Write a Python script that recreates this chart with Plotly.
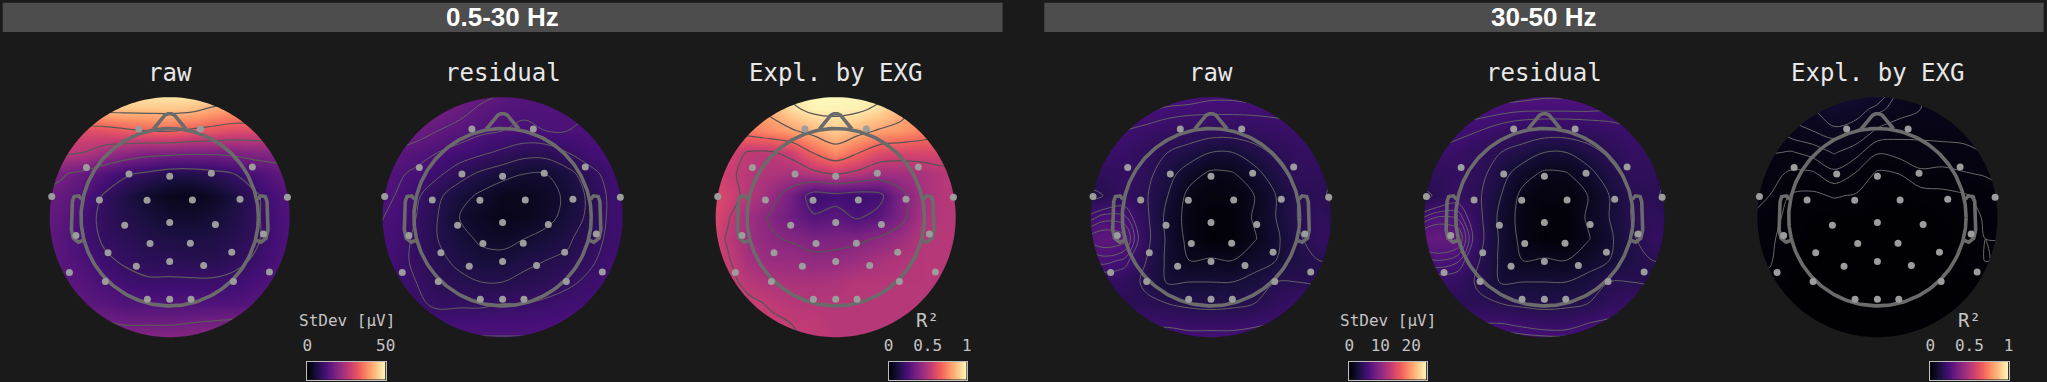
import numpy as np
import plotly.graph_objects as go

BG = "#1a1a1a"
W, H = 2047, 382

GRID_X = [-1.08, -0.9, -0.72, -0.54, -0.36, -0.18, 0, 0.18, 0.36, 0.54, 0.72, 0.9, 1.08]
GRID_Y_TOP_DOWN = [1.08, 0.9, 0.72, 0.54, 0.36, 0.18, 0, -0.18, -0.36, -0.54, -0.72, -0.9, -1.08]

SENSOR_X = [-.256, .256, -.694, .689, -.339, 0, .347, -.983, .981, -.586, -.189, .189, .586, -.375, 0, .381,
            -.781, .781, -.164, .172, -.514, .517, -.278, 0, .283, -.836, .831, -.536, .531, -.186, 0, .178]
SENSOR_Y = [.736, .736, .414, .419, .361, .342, .367, .172, .167, .144, .142, .144, .15, -.067, -.044, -.061,
            -.153, -.139, -.219, -.217, -.297, -.292, -.408, -.369, -.403, -.461, -.456, -.536, -.536, -.683, -.683, -.683]

# values as a fraction of each panel's colour range, rows from the top of the head to the back
LOW_RAW = [
    [1, 1, 1, 1, 1, 1, 1, 1, 1, 1, 1, 1, 1],
    [.9, .9, .9, .88, .88, .88, .88, .87, .82, .8, .8, .8, .8],
    [.6, .6, .6, .62, .65, .67, .68, .65, .63, .6, .6, .6, .6],
    [.52, .52, .5, .44, .4, .37, .36, .35, .35, .36, .38, .38, .38],
    [.38, .34, .3, .25, .2, .17, .14, .14, .16, .19, .24, .28, .3],
    [.32, .3, .25, .18, .13, .08, .05, .04, .07, .12, .18, .24, .27],
    [.3, .28, .22, .17, .14, .11, .09, .08, .1, .13, .18, .23, .26],
    [.29, .27, .22, .18, .16, .14, .13, .12, .13, .15, .18, .23, .26],
    [.29, .27, .24, .2, .18, .16, .16, .15, .15, .17, .2, .24, .27],
    [.3, .28, .26, .23, .21, .2, .2, .2, .2, .21, .23, .26, .28],
    [.32, .3, .28, .27, .25, .25, .25, .25, .25, .25, .27, .28, .3],
    [.36, .34, .34, .34, .33, .33, .33, .34, .35, .36, .36, .36, .36],
    [.42, .42, .42, .42, .42, .42, .42, .42, .42, .42, .42, .42, .42],
]
LOW_RESIDUAL = [
    [.36, .36, .36, .36, .34, .32, .3, .27, .26, .25, .24, .24, .24],
    [.36, .36, .35, .34, .31, .28, .26, .25, .25, .25, .24, .24, .24],
    [.35, .34, .32, .29, .27, .25, .24, .23, .24, .24, .24, .24, .24],
    [.3, .28, .26, .24, .22, .2, .18, .16, .16, .19, .22, .23, .24],
    [.27, .25, .23, .2, .16, .13, .11, .09, .09, .12, .17, .21, .22],
    [.25, .24, .2, .15, .11, .08, .05, .05, .07, .1, .15, .2, .22],
    [.25, .23, .19, .14, .09, .06, .04, .05, .07, .11, .15, .2, .22],
    [.24, .22, .18, .14, .11, .08, .07, .09, .11, .13, .17, .2, .21],
    [.23, .21, .18, .15, .13, .11, .11, .13, .14, .15, .18, .21, .22],
    [.22, .21, .19, .16, .15, .14, .14, .15, .16, .18, .2, .22, .23],
    [.22, .21, .2, .18, .18, .18, .19, .19, .2, .21, .22, .23, .24],
    [.24, .23, .22, .22, .23, .23, .23, .23, .23, .24, .25, .25, .25],
    [.25, .25, .25, .25, .25, .25, .25, .25, .25, .25, .25, .25, .25],
]
LOW_EXPL = [
    [.8, .85, .9, .95, 1, 1, 1, 1, 1, .95, .9, .85, .8],
    [.72, .74, .78, .84, .93, .98, .98, .97, .93, .85, .78, .72, .7],
    [.66, .68, .72, .76, .8, .85, .89, .85, .8, .78, .74, .7, .66],
    [.62, .58, .52, .52, .56, .68, .76, .68, .6, .58, .58, .58, .56],
    [.6, .55, .5, .48, .47, .5, .53, .5, .45, .45, .47, .5, .5],
    [.62, .57, .5, .43, .33, .2, .22, .2, .22, .36, .46, .5, .5],
    [.62, .54, .44, .38, .32, .26, .28, .24, .28, .36, .47, .5, .5],
    [.6, .52, .44, .4, .38, .36, .36, .37, .4, .44, .5, .5, .5],
    [.6, .54, .46, .43, .43, .41, .42, .44, .47, .49, .5, .5, .5],
    [.6, .56, .5, .48, .47, .47, .48, .5, .5, .5, .5, .5, .5],
    [.6, .58, .55, .52, .5, .5, .5, .5, .5, .5, .5, .5, .5],
    [.6, .6, .57, .55, .53, .52, .5, .5, .5, .5, .5, .5, .5],
    [.6, .6, .58, .56, .54, .52, .51, .5, .5, .5, .5, .5, .5],
]
HIGH_RAW = [
    [.22, .23, .24, .25, .26, .26, .24, .24, .25, .24, .22, .21, .2],
    [.23, .23, .23, .23, .22, .215, .215, .215, .215, .215, .215, .21, .2],
    [.21, .21, .205, .195, .185, .18, .175, .175, .18, .19, .195, .2, .19],
    [.2, .2, .19, .17, .15, .13, .1, .1, .13, .16, .18, .18, .17],
    [.17, .17, .18, .165, .12, .07, .04, .045, .08, .13, .17, .17, .15],
    [.13, .15, .18, .155, .1, .035, .02, .02, .05, .1, .15, .16, .13],
    [.2, .235, .23, .16, .085, .03, .01, .015, .055, .1, .15, .17, .16],
    [.26, .285, .275, .165, .09, .035, .01, .015, .045, .09, .14, .18, .17],
    [.22, .235, .22, .15, .09, .05, .055, .05, .08, .1, .13, .15, .15],
    [.17, .18, .175, .14, .095, .1, .1, .1, .115, .15, .15, .14, .13],
    [.18, .17, .155, .16, .15, .14, .135, .14, .15, .17, .19, .2, .19],
    [.21, .21, .21, .2, .2, .19, .19, .19, .2, .21, .21, .21, .2],
    [.25, .25, .25, .25, .25, .25, .25, .25, .25, .25, .25, .25, .25],
]
HIGH_RESIDUAL = [
    [.23, .24, .25, .26, .27, .27, .26, .26, .26, .25, .23, .22, .21],
    [.24, .24, .24, .24, .235, .23, .23, .23, .23, .225, .22, .21, .2],
    [.22, .22, .215, .205, .19, .18, .175, .175, .18, .19, .2, .2, .19],
    [.2, .2, .19, .17, .15, .13, .1, .1, .13, .16, .18, .18, .17],
    [.17, .17, .18, .165, .12, .07, .04, .045, .08, .13, .17, .17, .15],
    [.13, .155, .185, .155, .1, .035, .02, .02, .05, .1, .15, .16, .13],
    [.21, .245, .24, .16, .085, .03, .01, .015, .055, .1, .15, .17, .16],
    [.28, .305, .29, .165, .09, .035, .01, .015, .045, .09, .14, .18, .17],
    [.23, .245, .23, .15, .09, .05, .055, .05, .08, .1, .13, .15, .15],
    [.18, .185, .18, .14, .095, .1, .1, .1, .115, .15, .15, .14, .13],
    [.18, .17, .155, .16, .15, .14, .135, .14, .15, .17, .19, .2, .19],
    [.22, .22, .22, .21, .21, .2, .19, .19, .21, .22, .22, .22, .21],
    [.26, .26, .26, .26, .26, .26, .26, .26, .26, .26, .26, .26, .26],
]
HIGH_EXPL = [
    [.06, .07, .08, .09, .1, .1, .085, .05, .04, .04, .035, .03, .03],
    [.045, .05, .055, .06, .08, .07, .053, .045, .04, .04, .035, .03, .03],
    [.03, .035, .046, .05, .055, .05, .038, .034, .033, .034, .033, .035, .035],
    [.03, .03, .029, .034, .041, .034, .021, .024, .026, .026, .028, .03, .03],
    [.026, .024, .018, .018, .027, .019, .008, .01, .018, .017, .019, .021, .025],
    [.024, .02, .009, .008, .011, .009, .004, .004, .005, .007, .009, .013, .018],
    [.02, .015, .006, .003, .002, .002, .002, .002, .002, .003, .006, .011, .012],
    [.016, .012, .005, .002, .001, .001, .001, .001, .001, .002, .006, .01, .01],
    [.012, .011, .004, .001, .001, .001, .001, .001, .001, .001, .004, .0105, .008],
    [.008, .008, .003, .001, .001, .001, .001, .001, .001, .001, .003, .004, .004],
    [.002, .002, .002, .001, .001, .001, .001, .001, .001, .001, .001, .002, .002],
    [.001, .001, .001, .001, .001, .001, .001, .001, .001, .001, .001, .001, .001],
    [.001, .001, .001, .001, .001, .001, .001, .001, .001, .001, .001, .001, .001],
]

PANEL_TITLES = ["raw", "residual", "Expl. by EXG", "raw", "residual", "Expl. by EXG"]
PANEL_FIELDS = [LOW_RAW, LOW_RESIDUAL, LOW_EXPL, HIGH_RAW, HIGH_RESIDUAL, HIGH_EXPL]
PANEL_CX = [169.7, 502.6, 835.7, 1211.0, 1544.4, 1877.4]
PANEL_CY = 217.2
PANEL_SCALE = [50, 50, 1, 25, 25, 1]
PANEL_LEVELS = [
    [.19, .33, .5, .67, .84],
    [.09, .14, .19, .24, .29],
    [.25, .39, .53, .67, .81, .95],
    [.05, .1, .15, .205, .225, .245, .265],
    [.05, .1, .15, .205, .225, .245, .265],
    [.01, .02, .03, .04, .05, .06],
]
LINE_COLOR = ["#5a5a5a", "#606060", "#555555", "#626262", "#626262", "#6a6a6a"]
LINE_WIDTH = [1.2, 1, 1.2, 1, 1, 1]

BAND_LABELS = ["0.5-30 Hz", "30-50 Hz"]
BAND_BARS = [(2.7, 1002.6), (1044.3, 2043.7)]
BAND_TEXT_X = [502.2, 1543.6]

CB_X = [(307.3, 385.7), (888.6, 966.7), (1349.3, 1426.7), (1930.2, 2008.6)]
CB_TITLE = ["StDev [μV]", "R²", "StDev [μV]", "R²"]
CB_TITLE_X = [346.7, 927.0, 1387.5, 1969.0]
CB_TITLE_SIZE = [16, 19, 16, 19]
CB_MAX = [50, 1, 25, 1]
CB_TICKS = [[0, 50], [0, .5, 1], [0, 10, 20], [0, .5, 1]]
CB_TICKTEXT = [["0", "50"], ["0", "0.5", "1"], ["0", "10", "20"], ["0", "0.5", "1"]]

HALF_PX = 156.0
UNIT_PX = 120.0
HEAD_R = 0.739
MONO = "DejaVu Sans Mono"

fig = go.Figure()
layout_axes = {}
annotations = []
shapes = []

theta = np.linspace(0, 2 * np.pi, 241)
ring_x, ring_y = HEAD_R * np.cos(theta), HEAD_R * np.sin(theta)
nose_x = [-.135, -.04, -.015, .015, .04, .135]
nose_y = [.735, .85, .862, .862, .85, .735]
ear_x = [-.733, -.758, -.797, -.811, -.819, -.803, -.761, -.725]
ear_y = [.15, .178, .172, .131, -.106, -.175, -.208, -.194]

for i, cx in enumerate(PANEL_CX):
    suffix = "" if i == 0 else str(i + 1)
    xa, ya = "x" + suffix, "y" + suffix
    rng = HALF_PX / UNIT_PX
    layout_axes["xaxis" + suffix] = dict(domain=[(cx - HALF_PX) / W, (cx + HALF_PX) / W],
                                         range=[-rng, rng], visible=False, anchor=ya)
    layout_axes["yaxis" + suffix] = dict(domain=[(H - PANEL_CY - HALF_PX) / H, (H - PANEL_CY + HALF_PX) / H],
                                         range=[-rng, rng], visible=False, anchor=xa)
    scale = PANEL_SCALE[i]
    z = (np.array(PANEL_FIELDS[i], dtype=float) * scale)[::-1]
    y = GRID_Y_TOP_DOWN[::-1]
    fig.add_trace(go.Heatmap(x=GRID_X, y=y, z=z, xaxis=xa, yaxis=ya, zmin=0, zmax=scale, colorscale="Magma",
                             zsmooth="best", hoverinfo="skip", showscale=False))
    for lev in PANEL_LEVELS[i]:
        fig.add_trace(go.Contour(x=GRID_X, y=y, z=z, xaxis=xa, yaxis=ya, showscale=False, hoverinfo="skip",
                                 autocontour=False,
                                 contours=dict(coloring="none", start=lev * scale, end=lev * scale, size=scale),
                                 line=dict(color=LINE_COLOR[i], width=LINE_WIDTH[i], smoothing=1)))
    # dark surround that turns the square field into the round head disc
    m = 1.25
    mx = [-m, m, m, -m, -m] + list(-np.sin(theta)) + [-m]
    my = [-m, -m, m, m, -m] + list(-np.cos(theta)) + [-m]
    fig.add_trace(go.Scatter(x=mx, y=my, xaxis=xa, yaxis=ya, mode="none", fill="toself", fillcolor=BG,
                             hoverinfo="skip", showlegend=False))
    head = dict(color="#6b6b6b", width=3.6)
    for px, py in [(ring_x, ring_y), (nose_x, nose_y), (ear_x, ear_y), ([-v for v in ear_x], ear_y)]:
        fig.add_trace(go.Scatter(x=list(px), y=list(py), xaxis=xa, yaxis=ya, mode="lines", cliponaxis=False,
                                 line=head, hoverinfo="skip", showlegend=False))
    fig.add_trace(go.Scatter(x=SENSOR_X, y=SENSOR_Y, xaxis=xa, yaxis=ya, mode="markers", cliponaxis=False,
                             marker=dict(size=7, color="#9c9c9c"), hoverinfo="skip", showlegend=False))
    annotations.append(dict(xref="paper", yref="paper", x=cx / W, y=1 - 72.5 / H, text=PANEL_TITLES[i],
                            showarrow=False, xanchor="center", yanchor="middle",
                            font=dict(family=MONO, size=24, color="#e8e8e8")))

for k, (x0, x1) in enumerate(CB_X):
    n = 7 + k
    xa, ya = "x%d" % n, "y%d" % n
    vmax = CB_MAX[k]
    ramp = np.linspace(0, vmax, 96)
    fig.add_trace(go.Heatmap(x=ramp, y=[0, 1], z=[ramp, ramp], xaxis=xa, yaxis=ya, zmin=0, zmax=vmax,
                             colorscale="Magma", zsmooth="best", showscale=False, hoverinfo="skip"))
    layout_axes["xaxis%d" % n] = dict(
        domain=[x0 / W, x1 / W], range=[0, vmax], anchor=ya, side="top", showgrid=False, zeroline=False,
        automargin=False, showline=True, linecolor="#bdbdbd", linewidth=1, mirror=True,
        tickmode="array", tickvals=CB_TICKS[k], ticktext=CB_TICKTEXT[k],
        ticks="outside", ticklen=4, tickcolor="rgba(0,0,0,0)",
        tickfont=dict(family=MONO, size=16, color="#c4c4c4"))
    layout_axes["yaxis%d" % n] = dict(
        domain=[2.5 / H, 20 / H], range=[0, 1], anchor=xa, showgrid=False, zeroline=False, showticklabels=False,
        automargin=False, ticks="", showline=True, linecolor="#bdbdbd", linewidth=1, mirror=True)
    annotations.append(dict(xref="paper", yref="paper", x=CB_TITLE_X[k] / W, y=1 - 320 / H, text=CB_TITLE[k],
                            showarrow=False, xanchor="center", yanchor="middle",
                            font=dict(family=MONO, size=CB_TITLE_SIZE[k], color="#c4c4c4")))

for (x0, x1), label, tx in zip(BAND_BARS, BAND_LABELS, BAND_TEXT_X):
    shapes.append(dict(type="rect", xref="paper", yref="paper", x0=x0 / W, x1=x1 / W, y0=1 - 32 / H, y1=1 - 2.7 / H,
                       fillcolor="#4d4d4d", line=dict(width=0), layer="below"))
    annotations.append(dict(xref="paper", yref="paper", x=tx / W, y=1 - 17 / H, text="<b>%s</b>" % label,
                            showarrow=False, xanchor="center", yanchor="middle",
                            font=dict(family="Liberation Sans", size=26, color="#ffffff")))

fig.update_layout(width=W, height=H, margin=dict(l=0, r=0, t=0, b=0), autosize=False,
                  paper_bgcolor=BG, plot_bgcolor=BG, showlegend=False,
                  annotations=annotations, shapes=shapes, **layout_axes)

fig.write_html("out.html", config=dict(displayModeBar=False),
               post_script="document.body.style.margin='0';document.body.style.background='%s';document.body.style.overflow='hidden';" % BG)
